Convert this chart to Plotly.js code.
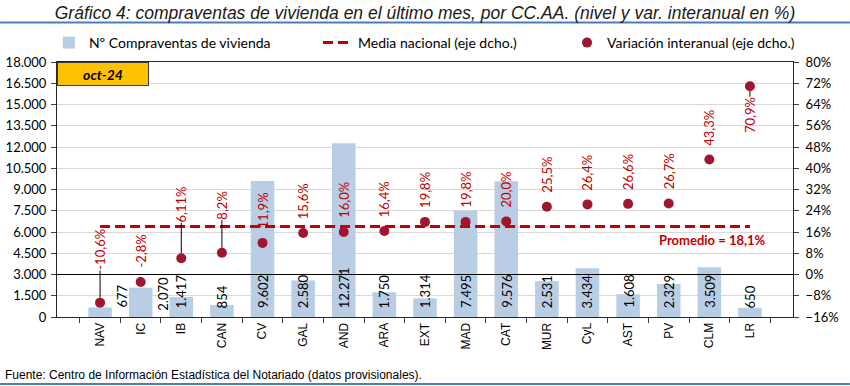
<!DOCTYPE html>
<html>
<head>
<meta charset="utf-8">
<script src="https://cdn.plot.ly/plotly-3.0.1.min.js"></script>
<style>
  html, body { margin: 0; padding: 0; background: #fff; }
  #chart { width: 850px; height: 386px; }
</style>
</head>
<body>
<div id="chart"></div>
<script>
// ---- Data ----
const categories = ['NAV','IC','IB','CAN','CV','GAL','AND','ARA','EXT','MAD','CAT','MUR','CyL','AST','PV','CLM','LR'];
const compraventas = [677, 2070, 1417, 854, 9602, 2580, 12271, 1750, 1314, 7495, 9576, 2531, 3434, 1608, 2329, 3509, 650];
const variacion = [-10.6, -2.8, 6.1, 8.2, 11.9, 15.6, 16.0, 16.4, 19.8, 19.8, 20.0, 25.5, 26.4, 26.6, 26.7, 43.3, 70.9];
const variacionLabels = ['-10,6%','-2,8%','6,11%','8,2%','11,9%','15,6%','16,0%','16,4%','19,8%','19,8%','20,0%','25,5%','26,4%','26,6%','26,7%','43,3%','70,9%'];
const mediaNacional = 18.1;
const mediaLabel = 'Promedio = 18,1%';
const periodo = 'oct-24';
const leftTicks = [0, 18000, 1500];
const rightTicks = [-16, 80, 8];

// ---- Label placement (styles, kept apart from data) ----
const varLabelOffset = [-53, -31, -54, -47, -32, -32, -32, -32, -32, -32, -32, -32, -32, -32, -32, -32, 29];
const varLeader      = [true, false, true, true, false, false, false, false, false, false, false, false, false, false, false, false, true];
const barLabelXShift = [21, 22, 0, 0, 0, 0, 0, 0, 0, 0, 0, 0, 0, 0, 0, 0, 0];
const barLabelYShift = [8, 5, 8, 8, 8, 8, 8, 8, 8, 8, 8, 8, 8, 8, 8, 8, 8];

function fmtMiles(n) {
  return String(n).replace(/\B(?=(\d{3})+(?!\d))/g, '.');
}

const CAL = 'Lato, "Open Sans", sans-serif';
const ARIAL = '"Liberation Sans", Arial, sans-serif';
const RED = '#C00000';
const DOT = '#A0152F';
const BAR = '#B9CDE5';

const traces = [
  {
    type: 'bar', name: 'Nº Compraventas de vivienda', legend: 'legend',
    x: categories, y: compraventas, yaxis: 'y',
    marker: { color: BAR }, hoverinfo: 'x+y'
  },
  {
    type: 'scatter', mode: 'lines', name: 'Media nacional (eje dcho.)', legend: 'legend2',
    x: categories, y: categories.map(() => mediaNacional), yaxis: 'y2',
    line: { color: RED, width: 3, dash: '10px,5px' }
  },
  {
    type: 'scatter', mode: 'markers', name: 'Variación interanual (eje dcho.)', legend: 'legend3',
    x: categories, y: variacion, yaxis: 'y2',
    marker: { color: DOT, size: 10 }
  }
];

const annotations = [];
// variation labels
categories.forEach((c, i) => {
  annotations.push({
    x: c, y: variacion[i], xref: 'x', yref: 'y2',
    text: variacionLabels[i], textangle: -90,
    showarrow: true, arrowhead: 0, arrowwidth: 1, standoff: 5,
    arrowcolor: varLeader[i] ? '#000000' : 'rgba(0,0,0,0)',
    ax: 0, ay: varLabelOffset[i],
    borderpad: 0,
    font: { family: CAL, size: 13, color: RED }
  });
});
// bar value labels
categories.forEach((c, i) => {
  annotations.push({
    x: c, y: 0, xref: 'x', yref: 'y',
    text: fmtMiles(compraventas[i]), textangle: -90,
    showarrow: false, xanchor: 'center', yanchor: 'bottom',
    xshift: barLabelXShift[i], yshift: barLabelYShift[i],
    borderpad: 0,
    font: { family: CAL, size: 13, color: '#000000' }
  });
});
// promedio label
annotations.push({
  x: 0.89, xref: 'paper', y: mediaNacional, yref: 'y2', yshift: -14,
  text: '<b>' + mediaLabel + '</b>', showarrow: false,
  xanchor: 'center', yanchor: 'middle',
  font: { family: CAL, size: 13, color: RED }
});
// period box
annotations.push({
  x: 0, y: 1, xref: 'paper', yref: 'paper', xanchor: 'left', yanchor: 'top',
  text: '<b><i>' + periodo + '</i></b>', showarrow: false,
  width: 90, height: 22, borderpad: 0, borderwidth: 1,
  bgcolor: '#FFC000', bordercolor: '#3a3a3a', align: 'center',
  font: { family: CAL, size: 14, color: '#000000' }
});
// source
annotations.push({
  x: -0.0734, y: -0.2275, xref: 'paper', yref: 'paper', xanchor: 'left', yanchor: 'middle',
  text: 'Fuente: Centro de Información Estadística del Notariado (datos provisionales).',
  showarrow: false, font: { family: ARIAL, size: 12, color: '#000000' }
});

const legendBase = {
  orientation: 'h', yanchor: 'middle', y: 1.0745, xanchor: 'left',
  bgcolor: 'rgba(0,0,0,0)', borderwidth: 0,
  font: { family: CAL, size: 14, color: '#000000' }
};

const layout = {
  width: 850, height: 386,
  margin: { l: 57, r: 57, t: 62, b: 69, pad: 0 },
  paper_bgcolor: '#ffffff', plot_bgcolor: '#ffffff',
  separators: ',.',
  bargap: 0.42,
  title: {
    text: 'Gráfico 4: compraventas de vivienda en el último mes, por CC.AA. (nivel y var. interanual en %)',
    x: 0.5, xref: 'container', xanchor: 'center',
    y: 0.966, yref: 'container', yanchor: 'middle',
    font: { family: ARIAL, size: 17.5, style: 'italic', color: '#1a1a1a' }
  },
  legend: Object.assign({}, legendBase, { x: -0.011 }),
  legend2: Object.assign({}, legendBase, { x: 0.3546 }),
  legend3: Object.assign({}, legendBase, { x: 0.693 }),
  xaxis: {
    type: 'category', tickangle: -90, ticks: 'outside', tickson: 'boundaries',
    ticklen: 5, tickcolor: '#404040', showline: true, linecolor: '#262626', linewidth: 1,
    mirror: true, showgrid: false,
    tickfont: { family: ARIAL, size: 12, color: '#000000' }
  },
  yaxis: {
    range: [leftTicks[0], leftTicks[1]], tick0: leftTicks[0], dtick: leftTicks[2],
    tickformat: ',d', showgrid: true, gridcolor: '#D9D9D9', gridwidth: 1,
    zeroline: false, showline: true, linecolor: '#262626', linewidth: 1,
    ticks: 'outside', ticklen: 5, tickcolor: '#404040', ticklabelstandoff: 2,
    tickfont: { family: CAL, size: 13, color: '#000000' }
  },
  yaxis2: {
    range: [rightTicks[0], rightTicks[1]], tick0: rightTicks[0], dtick: rightTicks[2],
    ticksuffix: '%', overlaying: 'y', side: 'right', showgrid: false,
    zeroline: true, zerolinecolor: '#000000', zerolinewidth: 1, zerolinelayer: 'above traces',
    showline: true, linecolor: '#262626', linewidth: 1,
    ticks: 'outside', ticklen: 5, tickcolor: '#404040', ticklabelstandoff: 4,
    tickfont: { family: CAL, size: 13, color: '#000000' }
  },
  shapes: [
    { type: 'line', xref: 'paper', yref: 'paper', x0: -0.0774, x1: 1.0774, y0: 1.155, y1: 1.155,
      line: { color: '#4A7EBB', width: 2 } },
    { type: 'line', xref: 'paper', yref: 'paper', x0: -0.0774, x1: 1.0774, y0: -0.2627, y1: -0.2627,
      line: { color: '#4A7EBB', width: 2 } }
  ],
  annotations: annotations,
  showlegend: true
};

Plotly.newPlot('chart', traces, layout, { displayModeBar: false, staticPlot: true });
</script>
</body>
</html>
